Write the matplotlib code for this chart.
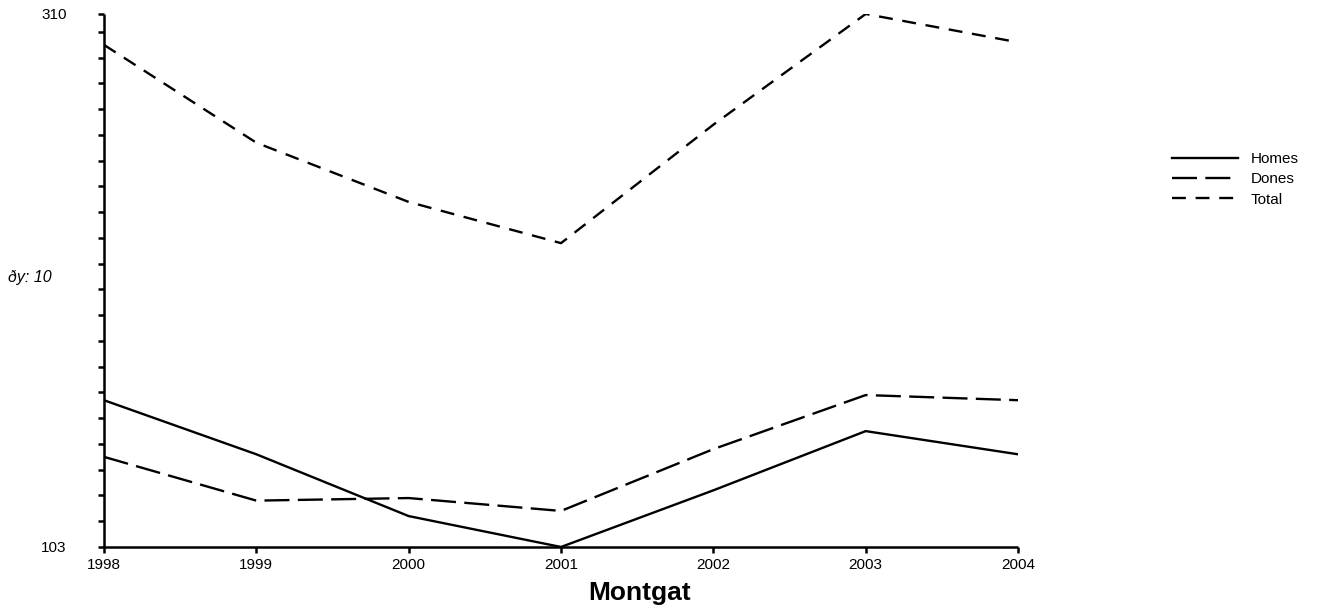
import matplotlib ; matplotlib.use('Agg')
from matplotlib import pyplot as plt
import numpy as np

plt.rcParams['font.family'] = ['Liberation Sans', 'DejaVu Sans']
plt.rcParams['lines.scale_dashes'] = False

years = [1998, 1999, 2000, 2001, 2002, 2003, 2004]
homes = [160, 139, 115, 103, 125, 148, 139]
dones = [138, 121, 122, 117, 141, 162, 160]
total = [298, 260, 237, 221, 267, 310, 299]

ymin, ymax = 103, 310

fig = plt.figure(figsize=(13.18, 6.13), dpi=100)
ax = fig.add_axes([0.0789, 0.1077, 0.7724 - 0.0789, 0.9772 - 0.1077])

ax.plot(years, homes, color='black', lw=1.7, label='Homes')
ax.plot(years, dones, color='black', lw=1.7, dashes=(18, 6), label='Dones')
ax.plot(years, total, color='black', lw=1.7, dashes=(10, 7), label='Total')

ax.set_xlim(1998, 2004)
ax.set_ylim(ymin, ymax)
ax.set_xticks(years)
ax.set_xticklabels([str(y) for y in years], fontsize=11)
ax.set_yticks([ymin, ymax])
ax.set_yticklabels([str(ymin), str(ymax)], fontsize=11)
ax.set_yticks(list(np.arange(ymin + 10, ymax, 10)), minor=True)

for s in ['top', 'right']:
	ax.spines[s].set_visible(False)
for s in ['left', 'bottom']:
	ax.spines[s].set_linewidth(1.8)
	ax.spines[s].set_capstyle('butt')

ax.tick_params(axis='y', which='both', length=4, width=1.8, pad=23)
ax.tick_params(axis='x', length=4, width=1.8, pad=4)

# titol sota l'eix
fig.text(0.485, 0.032, 'Montgat', fontsize=19, fontweight='bold', ha='center', va='center')
fig.text(0.006, 0.548, 'ðy: 10', fontsize=11.5, style='italic', ha='left', va='center')

fig.legend(loc='upper left', bbox_to_anchor=(1172 / 1318, 1 - 152 / 613), frameon=False,
	fontsize=11, handlelength=4.3, handletextpad=0.85, labelspacing=0.42,
	borderpad=0, borderaxespad=0)

plt.savefig('out.png', dpi=100)
